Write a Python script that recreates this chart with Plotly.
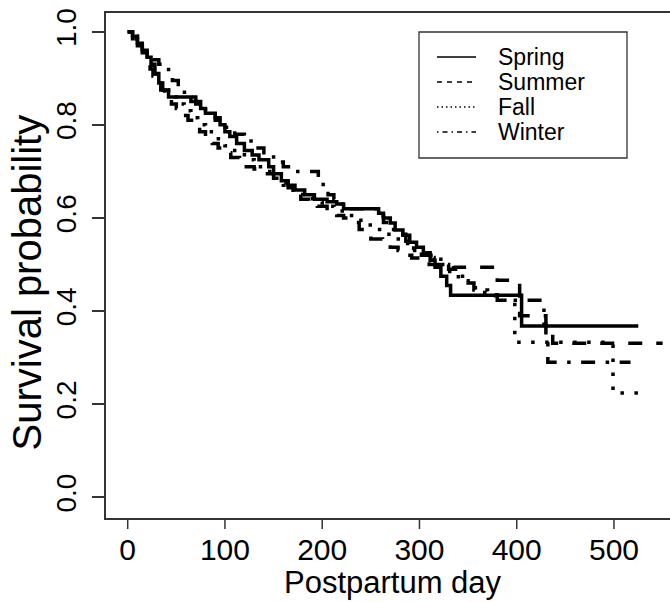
import plotly.graph_objects as go

# ---------------- data (Kaplan-Meier step curves) ----------------
spring_day = [0, 5, 10, 15, 20, 24, 28, 32, 36, 42, 65, 75, 80, 90, 95, 100, 105, 112, 120, 128,
              135, 145, 150, 158, 165, 172, 182, 192, 205, 215, 222, 258, 263, 270, 275, 283, 290,
              297, 304, 311, 316, 322, 328, 332, 405, 525]
spring_surv = [1.0, 0.99, 0.975, 0.96, 0.945, 0.93, 0.91, 0.89, 0.875, 0.86, 0.85, 0.835, 0.825,
               0.815, 0.80, 0.785, 0.775, 0.76, 0.745, 0.735, 0.725, 0.71, 0.695, 0.68, 0.67, 0.66,
               0.65, 0.64, 0.635, 0.63, 0.62, 0.61, 0.60, 0.589, 0.574, 0.563, 0.548, 0.537, 0.525,
               0.509, 0.494, 0.475, 0.455, 0.434, 0.368, 0.368]

summer_day = [0, 5, 10, 15, 20, 23, 26, 30, 34, 38, 45, 50, 56, 62, 68, 74, 80, 87, 93, 100,
              106, 115, 122, 130, 140, 150, 158, 165, 172, 178, 186, 195, 205, 215, 222, 230, 238,
              244, 250, 262, 270, 278, 285, 292, 300, 310, 335, 380, 403, 430, 437, 550]
summer_surv = [1.0, 0.985, 0.97, 0.955, 0.935, 0.92, 0.905, 0.89, 0.875, 0.86, 0.845, 0.835, 0.82,
               0.81, 0.795, 0.785, 0.77, 0.76, 0.75, 0.74, 0.73, 0.72, 0.71, 0.705, 0.695, 0.685,
               0.675, 0.665, 0.655, 0.64, 0.63, 0.625, 0.615, 0.605, 0.60, 0.59, 0.575, 0.565,
               0.555, 0.545, 0.537, 0.53, 0.52, 0.514, 0.51, 0.50, 0.494, 0.466, 0.39, 0.36,
               0.331, 0.331]

fall_day = [0, 5, 10, 15, 20, 25, 30, 35, 42, 50, 58, 65, 72, 80, 90, 100, 110, 120, 130, 140,
            150, 160, 170, 180, 190, 200, 212, 225, 235, 245, 255, 265, 275, 285, 295, 305, 315,
            328, 340, 350, 362, 378, 398, 499, 535]
fall_surv = [1.0, 0.99, 0.975, 0.955, 0.935, 0.915, 0.895, 0.875, 0.86, 0.845, 0.83, 0.815, 0.80,
             0.785, 0.77, 0.755, 0.74, 0.725, 0.71, 0.70, 0.685, 0.67, 0.655, 0.645, 0.635, 0.625,
             0.615, 0.605, 0.595, 0.585, 0.575, 0.565, 0.555, 0.545, 0.53, 0.515, 0.50, 0.485,
             0.465, 0.45, 0.44, 0.423, 0.333, 0.224, 0.224]

winter_day = [0, 5, 10, 15, 20, 26, 32, 42, 46, 52, 56, 62, 70, 80, 90, 100, 110, 120, 130, 140,
              150, 160, 170, 196, 201, 206, 212, 220, 228, 258, 263, 270, 278, 286, 294, 302, 322,
              330, 342, 350, 356, 370, 380, 428, 430, 432, 517]
winter_surv = [1.0, 0.985, 0.97, 0.96, 0.95, 0.94, 0.93, 0.91, 0.895, 0.88, 0.87, 0.86, 0.845,
               0.83, 0.81, 0.795, 0.78, 0.765, 0.75, 0.735, 0.72, 0.71, 0.70, 0.685, 0.665, 0.65,
               0.64, 0.63, 0.62, 0.605, 0.59, 0.575, 0.565, 0.55, 0.535, 0.52, 0.50, 0.49, 0.475,
               0.46, 0.445, 0.435, 0.423, 0.37, 0.33, 0.29, 0.29]

season_names = ["Spring", "Summer", "Fall", "Winter"]
x_ticks = [0, 100, 200, 300, 400, 500]
y_ticks = [0.0, 0.2, 0.4, 0.6, 0.8, 1.0]
y_tick_text = ["0.0", "0.2", "0.4", "0.6", "0.8", "1.0"]
x_title = "Postpartum day"
y_title = "Survival probability"

# ---------------- figure ----------------
FONT = "Liberation Sans, Arial, Helvetica, sans-serif"
LW = 3.5
AXIS_COL = "#333"
curve_dash = ["solid", "14px,14px", "3.5px,10.5px", "3.5px,10.5px,14px,10.5px"]
legend_dash = ["solid", "5px,5px", "1.5px,3px", "1.5px,4px,5px,4px"]
series = [(spring_day, spring_surv), (summer_day, summer_surv),
          (fall_day, fall_surv), (winter_day, winter_surv)]

fig = go.Figure()
for name, (d, s), dash in zip(season_names, series, curve_dash):
    fig.add_trace(go.Scatter(x=d, y=s, mode="lines", name=name, showlegend=False,
                             hoverinfo="skip",
                             line=dict(color="black", width=LW, dash=dash, shape="hv")))

W, H = 670, 602
ML, MR, MT, MB = 106, 0, 13, 84
PW, PH = W - ML - MR, H - MT - MB


def px_to_paper(px, py):
    return (px - ML) / PW, 1 - (py - MT) / PH


shapes = []
annotations = []

# x-axis tick marks (placed on the x scale)
XTICK_LEN = 11
for v in x_ticks:
    shapes.append(dict(type="line", xref="x", yref="paper", x0=v, x1=v, y0=0,
                       y1=-XTICK_LEN / PH, line=dict(color=AXIS_COL, width=1.5)))

# legend box
x0, y0 = px_to_paper(419, 32)
x1, y1 = px_to_paper(627, 158)
shapes.append(dict(type="rect", xref="paper", yref="paper", x0=x0, y0=y1, x1=x1, y1=y0,
                   line=dict(color=AXIS_COL, width=1.3), fillcolor="white", layer="above"))
for i, (name, dash) in enumerate(zip(season_names, legend_dash)):
    ly = 57 + 25 * i
    lx0, lyp = px_to_paper(437, ly)
    lx1, _ = px_to_paper(476, ly)
    shapes.append(dict(type="line", xref="paper", yref="paper", x0=lx0, x1=lx1, y0=lyp, y1=lyp,
                       line=dict(color="black", width=1.3, dash=dash), layer="above"))
    tx, _ = px_to_paper(496, ly)
    annotations.append(dict(text=name, xref="paper", yref="paper", x=tx, y=lyp,
                            xanchor="left", yanchor="middle", showarrow=False,
                            font=dict(family=FONT, size=23, color="black")))

# axis titles
xt_x, xt_y = px_to_paper(393, 602)
annotations.append(dict(text=x_title, xref="paper", yref="paper", x=xt_x, y=xt_y,
                        xanchor="center", yanchor="bottom", showarrow=False,
                        font=dict(family=FONT, size=31, color="black")))
yt_x, yt_y = px_to_paper(26.5, 283)
annotations.append(dict(text=y_title, xref="paper", yref="paper", x=yt_x, y=yt_y,
                        xanchor="center", yanchor="middle", showarrow=False, textangle=-90,
                        font=dict(family=FONT, size=40, color="black")))

fig.update_layout(
    width=W, height=H,
    margin=dict(l=ML, r=MR, t=MT, b=MB, autoexpand=False),
    paper_bgcolor="white", plot_bgcolor="white",
    font=dict(family=FONT, color="black"),
    shapes=shapes, annotations=annotations,
    showlegend=False, hovermode=False,
)
fig.update_xaxes(
    range=[-22.31, 557.6], tickvals=x_ticks, ticks="", showline=True, linecolor=AXIS_COL,
    linewidth=1.5, mirror=True, showgrid=False, zeroline=False,
    tickfont=dict(family=FONT, size=30, color="black"), ticklabelstandoff=4,
    automargin=False, fixedrange=True,
)
fig.update_yaxes(
    range=[-0.0445, 1.0402], tickvals=y_ticks, ticktext=y_tick_text, tickangle=-90,
    ticks="outside", ticklen=12, tickwidth=1.5, tickcolor=AXIS_COL, showline=True,
    linecolor=AXIS_COL, linewidth=1.5, mirror=False, showgrid=False, zeroline=False,
    tickfont=dict(family=FONT, size=28, color="black"), ticklabelstandoff=5,
    automargin=False, fixedrange=True,
)

# the page body has a default 8px margin; remove it so the figure fills the window exactly
fig.write_html("out.html", config={"displayModeBar": False},
               post_script="document.body.style.margin='0px';")
